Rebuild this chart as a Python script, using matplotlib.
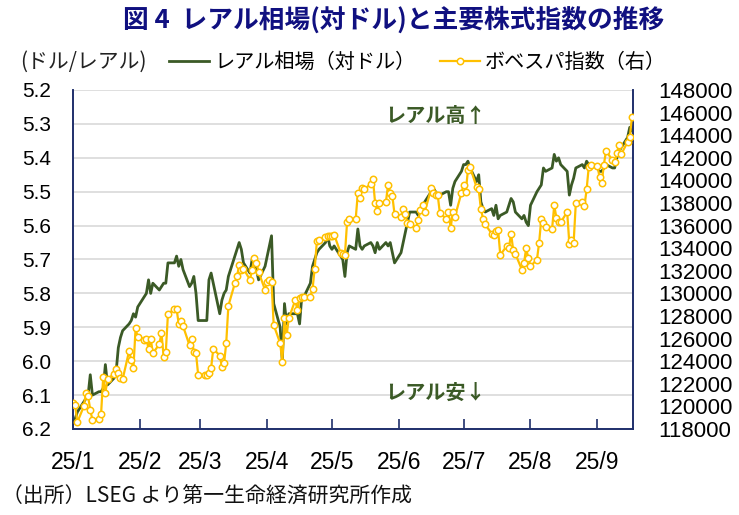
import matplotlib
matplotlib.use('Agg')
import matplotlib.pyplot as plt
import numpy as np
import pandas as pd

# business days Jan 1 - Sep 17, 2025 (holidays carry the previous value)
dates = pd.bdate_range('2025-01-01', '2025-09-17')

# USD/BRL (left axis, inverted)
brl = [
    # Jan
    6.18, 6.17, 6.15, 6.12, 6.11, 6.10, 6.04, 6.10, 6.09, 6.09, 6.08, 6.01,
    6.07, 6.05, 6.03, 5.96, 5.93, 5.91, 5.89, 5.88, 5.86, 5.87, 5.84,
    # Feb
    5.81, 5.80, 5.76, 5.80, 5.77, 5.79, 5.78, 5.77, 5.77, 5.71, 5.71, 5.69,
    5.72, 5.70, 5.73, 5.78, 5.77, 5.75, 5.80, 5.88,
    # Mar
    5.88, 5.88, 5.76, 5.74, 5.77, 5.86, 5.82, 5.80, 5.79, 5.75, 5.69, 5.67,
    5.65, 5.67, 5.71, 5.74, 5.70, 5.71, 5.73, 5.76, 5.72,
    # Apr
    5.69, 5.66, 5.63, 5.83, 5.90, 6.00, 5.83, 5.89, 5.86, 5.86, 5.86, 5.89,
    5.81, 5.81, 5.77, 5.72, 5.70, 5.68, 5.67, 5.65, 5.63, 5.66,
    # May
    5.67, 5.66, 5.69, 5.70, 5.75, 5.68, 5.66, 5.67, 5.61, 5.66, 5.67, 5.66,
    5.65, 5.66, 5.68, 5.65, 5.67, 5.65, 5.66, 5.65, 5.68, 5.71,
    # Jun
    5.68, 5.65, 5.62, 5.59, 5.56, 5.56, 5.57, 5.55, 5.54, 5.53, 5.50, 5.49,
    5.50, 5.51, 5.51, 5.50, 5.50, 5.54, 5.49, 5.47, 5.44,
    # Jul
    5.42, 5.42, 5.41, 5.43, 5.47, 5.45, 5.53, 5.55, 5.56, 5.55, 5.57, 5.54,
    5.58, 5.57, 5.56, 5.54, 5.52, 5.53, 5.56, 5.58, 5.57, 5.59, 5.60,
    # Aug
    5.54, 5.50, 5.49, 5.48, 5.43, 5.44, 5.43, 5.39, 5.41, 5.40, 5.42, 5.44,
    5.51, 5.48, 5.46, 5.43, 5.42, 5.43, 5.41, 5.42, 5.42,
    # Sep
    5.43, 5.44, 5.44, 5.43, 5.42, 5.43, 5.43, 5.40, 5.38, 5.37, 5.34, 5.31,
    5.32,
]

# Ibovespa (right axis)
ibov = [
    # Jan
    120300, 120100, 118600, 120000, 121200, 120900, 119700, 118800, 118900,
    119300, 122600, 121200, 122400, 122900, 123300, 123000, 122500, 122400,
    124900, 124100, 123400, 126900, 126100,
    # Feb
    125900, 126000, 125100, 126000, 124700, 125500, 126500, 124400, 124800,
    128200, 128600, 128600, 127300, 127600, 127100, 125400, 126000, 124800,
    124700, 122800,
    # Mar
    122800, 122800, 123000, 123400, 125100, 124500, 123500, 123800, 125600,
    128900, 130900, 131500, 132500, 132100, 132200, 131200, 132100, 133100,
    132700, 131900, 130300,
    # Apr
    131000, 131200, 131000, 127200, 125600, 123900, 127800, 126300, 127800,
    129400, 128500, 129600, 129700, 129700, 129700, 130400, 132200, 134600,
    134700, 135000, 135100, 135100,
    # May
    135100, 135200, 133600, 133500, 133400, 136300, 136600, 136600, 138900,
    138400, 139300, 139200, 139700, 140100, 138000, 137300, 138000, 138100,
    139600, 138900, 138600, 137000,
    # Jun
    136800, 137500, 137000, 136200, 136100, 135800, 136500, 137400, 137800,
    137200, 139300, 138900, 138700, 138700, 137100, 136600, 137200, 135800,
    137200, 136800, 138900,
    # Jul
    139600, 139000, 140900, 141200, 139400, 139200, 137500, 136600, 136100,
    135300, 135200, 135500, 135600, 133400, 134200, 134000, 135300, 133800,
    133500, 132100, 132700, 134000, 133100,
    # Aug
    132400, 133000, 134500, 136600, 136200, 135900, 135700, 137800, 136700,
    136300, 136300, 137200, 134400, 134700, 134500, 138000, 138100, 137700,
    139200, 141200, 141400,
    # Sep
    141300, 140300, 139800, 141400, 142600, 141800, 141600, 142400, 143100,
    142300, 143400, 143800, 145600,
]

month_ticks = pd.date_range('2025-01-01', '2025-09-01', freq='MS')
month_labels = ['25/1', '25/2', '25/3', '25/4', '25/5', '25/6', '25/7', '25/8', '25/9']
left_ticks = [5.2, 5.3, 5.4, 5.5, 5.6, 5.7, 5.8, 5.9, 6.0, 6.1, 6.2]
right_ticks = list(range(118000, 148001, 2000))

jp = ['Noto Sans CJK JP', 'DejaVu Sans']
num_font = 'Liberation Sans'
navy = '#1F2F6B'
green = '#3B5A26'
gold = '#FFC000'

fig = plt.figure(figsize=(7.39, 5.15), dpi=100)
ax = fig.add_axes([73 / 739, 1 - 429 / 515, 560 / 739, 339 / 515])
ax2 = ax.twinx()

l1, = ax.plot(dates, brl, color=green, lw=2.0, zorder=3)
l2, = ax2.plot(dates, ibov, color=gold, lw=1.6, marker='o', ms=4.6,
               mfc='white', mec=gold, mew=1.1, zorder=4)

ax.set_xlim(pd.Timestamp('2025-01-01'), pd.Timestamp('2025-09-17 12:00'))
ax.set_ylim(6.2, 5.2)
ax2.set_ylim(118000, 148000)

ax.set_yticks(left_ticks)
ax.set_yticklabels([f'{v:.1f}' for v in left_ticks], family=num_font, fontsize=15)
ax2.set_yticks(right_ticks)
ax2.set_yticklabels([str(v) for v in right_ticks], family=num_font, fontsize=16)
ax.set_xticks(month_ticks)
ax.set_xticklabels(month_labels, family=num_font, fontsize=16.5)

ax.yaxis.grid(True, color='#D9D9D9', lw=1.2)
ax.set_axisbelow(True)

ax.tick_params(axis='y', length=0, pad=16)
ax2.tick_params(axis='y', length=0, pad=18)
ax.tick_params(axis='x', direction='in', length=7, width=1.2, color=navy, pad=16)

for a in (ax, ax2):
    a.spines['top'].set_visible(False)
    for s in ('left', 'right', 'bottom'):
        a.spines[s].set_color(navy)
        a.spines[s].set_linewidth(1.2)

# legend
fig.legend([l1, l2], ['レアル相場（対ドル）', 'ボベスパ指数（右）'],
           loc='center', bbox_to_anchor=(0.565, 0.879), ncol=2, frameon=False,
           prop={'family': jp, 'size': 14.5}, handlelength=2.0,
           handletextpad=0.25, columnspacing=1.2, numpoints=1)

fig.text(0.532, 0.962, '図 4  レアル相場(対ドル)と主要株式指数の推移',
         ha='center', va='center', fontsize=18.5, fontweight='bold',
         color='#101080', family=jp)
fig.text(20 / 739, 1 - 62 / 515, '(ドル/レアル)', ha='left', va='center',
         fontsize=15, family=jp, color='#222222')

ax.text(0.557, 0.925, 'レアル高↑', transform=ax.transAxes, ha='left', va='center',
        fontsize=14.5, fontweight='bold', color=green, family=jp)
ax.text(0.557, 0.108, 'レアル安↓', transform=ax.transAxes, ha='left', va='center',
        fontsize=14.5, fontweight='bold', color=green, family=jp)

fig.text(2 / 739, 1 - 497 / 515, '（出所）LSEG より第一生命経済研究所作成',
         ha='left', va='center', fontsize=15, family=jp, color='#111111')

fig.savefig('out.png', dpi=100)
